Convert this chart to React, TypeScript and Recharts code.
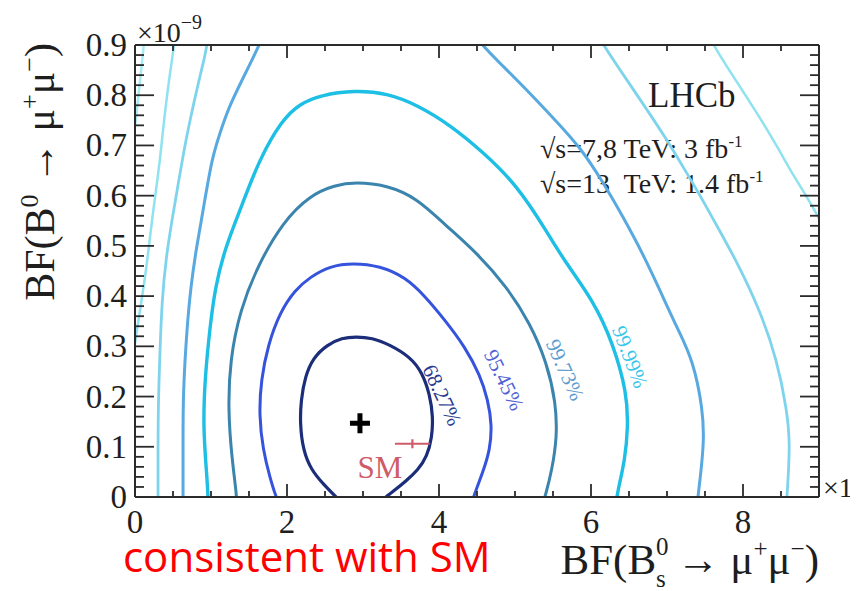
import React from 'react';
import {
  ComposedChart,
  Line,
  Scatter,
  XAxis,
  YAxis,
  ErrorBar,
  ReferenceDot,
  Customized,
} from 'recharts';

type P = [number, number];

// Confidence contours in the (BF(Bs->mumu), BF(B0->mumu)) plane, units of 1e-9.
const contour6827: P[] = [
  [2.724, -0.012], [2.645, 0], [2.487, 0.024], [2.316, 0.054], [2.21, 0.094],
  [2.171, 0.147], [2.184, 0.193], [2.237, 0.239], [2.342, 0.277], [2.526, 0.303],
  [2.724, 0.317], [2.908, 0.319], [3.118, 0.317], [3.355, 0.303], [3.618, 0.279],
  [3.776, 0.249], [3.882, 0.203], [3.921, 0.159], [3.908, 0.119], [3.842, 0.08],
  [3.724, 0.054], [3.553, 0.03], [3.42, 0.014], [3.3, 0], [3.2, -0.014],
];

const contour9545: P[] = [
  [1.895, -0.012], [1.855, 0], [1.776, 0.038], [1.684, 0.094], [1.632, 0.163],
  [1.658, 0.233], [1.75, 0.303], [1.908, 0.368], [2.105, 0.412], [2.303, 0.438],
  [2.566, 0.46], [2.868, 0.466], [3.224, 0.46], [3.553, 0.438], [3.816, 0.4],
  [4.079, 0.352], [4.342, 0.299], [4.539, 0.243], [4.645, 0.193], [4.697, 0.143],
  [4.671, 0.094], [4.579, 0.05], [4.461, 0.004], [4.434, -0.012],
];

const contour9973: P[] = [
  [1.329, -0.012], [1.342, 0], [1.276, 0.074], [1.224, 0.173], [1.25, 0.273],
  [1.382, 0.372], [1.618, 0.462], [1.947, 0.548], [2.303, 0.601], [2.632, 0.621],
  [2.895, 0.627], [3.316, 0.621], [3.711, 0.595], [4.079, 0.542], [4.5, 0.486],
  [4.895, 0.418], [5.197, 0.346], [5.421, 0.267], [5.539, 0.187], [5.553, 0.119],
  [5.487, 0.054], [5.395, 0], [5.368, -0.012],
];

const contour9999: P[] = [
  [0.961, -0.012], [0.961, 0], [0.947, 0.04], [0.895, 0.139], [0.921, 0.239],
  [0.987, 0.339], [1.053, 0.416], [1.184, 0.496], [1.408, 0.581], [1.632, 0.671],
  [1.934, 0.751], [2.171, 0.783], [2.434, 0.8], [2.895, 0.81], [3.316, 0.804],
  [3.711, 0.781], [4.145, 0.741], [4.579, 0.687], [5.026, 0.621], [5.421, 0.528],
  [5.658, 0.468], [6.026, 0.392], [6.289, 0.307], [6.474, 0.207], [6.487, 0.139],
  [6.447, 0.074], [6.355, 0.014], [6.329, -0.012],
];

// Outer levels leave the frame at the top, so each is kept as two arms.
const level5Left: P[] = [
  [0.632, -0.012], [0.632, 0.008], [0.632, 0.108], [0.632, 0.207], [0.684, 0.339],
  [0.737, 0.422], [0.803, 0.492], [0.908, 0.581], [1.013, 0.675], [1.118, 0.725],
  [1.237, 0.777], [1.408, 0.83], [1.539, 0.87], [1.645, 0.904], [1.684, 0.916],
];
const level5Right: P[] = [
  [4.513, 0.916], [4.539, 0.904], [4.868, 0.854], [5.197, 0.804], [5.526, 0.751],
  [5.855, 0.697], [6.158, 0.627], [6.421, 0.558], [6.711, 0.476], [6.947, 0.398],
  [7.145, 0.333], [7.342, 0.273], [7.474, 0.173], [7.487, 0.108], [7.434, 0.034],
  [7.408, 0], [7.395, -0.012],
];

const level6Left: P[] = [
  [0.303, -0.012], [0.303, 0.054], [0.303, 0.173], [0.329, 0.293], [0.355, 0.392],
  [0.408, 0.476], [0.487, 0.552], [0.566, 0.621], [0.645, 0.691], [0.724, 0.751],
  [0.842, 0.83], [0.908, 0.87], [0.947, 0.9], [0.961, 0.916],
];
const level6Right: P[] = [
  [6.118, 0.916], [6.145, 0.904], [6.447, 0.836], [6.737, 0.771], [6.974, 0.717],
  [7.197, 0.661], [7.434, 0.601], [7.671, 0.536], [7.921, 0.468], [8.224, 0.372],
  [8.447, 0.273], [8.579, 0.173], [8.618, 0.108], [8.592, 0.034], [8.579, 0],
  [8.566, -0.012],
];

const level7Left: P[] = [
  [0.526, 0.916], [0.513, 0.9], [0.487, 0.87], [0.447, 0.83], [0.382, 0.751],
  [0.329, 0.671], [0.276, 0.611], [0.224, 0.552], [0.171, 0.482], [0.118, 0.422],
  [0.066, 0.372], [0.026, 0.333], [-0.013, 0.293],
];
const level7Right: P[] = [
  [7.579, 0.916], [7.605, 0.9], [7.921, 0.826], [8.224, 0.755], [8.461, 0.695],
  [8.658, 0.641], [8.829, 0.601], [8.974, 0.562], [9.079, 0.532],
];

const level8Left: P[] = [
  [0.118, 0.916], [0.118, 0.9], [0.066, 0.83], [0.013, 0.751], [-0.026, 0.711],
];

// Best fit and Standard Model prediction.
const bestFit = [{ x: 2.96, y: 0.147 }];
const smPrediction = [{ x: 3.65, y: 0.106, ex: 0.23, ey: 0.009 }];

// Contour level names.
const levelNames = ['68.27%', '95.45%', '99.73%', '99.99%'];
const levelLabelAt: P[] = [[4.04, 0.203], [4.855, 0.233], [5.658, 0.253], [6.513, 0.279]];

// Axis tick values.
const xMajorTicks = [0, 2, 4, 6, 8];
const yMajorTicks = [0, 0.1, 0.2, 0.3, 0.4, 0.5, 0.6, 0.7, 0.8, 0.9];
const yTickLabels = ['0', '0.1', '0.2', '0.3', '0.4', '0.5', '0.6', '0.7', '0.8', '0.9'];
const xTicks = Array.from({ length: 19 }, (_, i) => i * 0.5);
const yTicks = Array.from({ length: 46 }, (_, i) => Math.round(i * 2) / 100);

const rows = (pts: P[]) => pts.map(([x, y]) => ({ x, y }));

const SERIF = 'Liberation Serif, Times New Roman, serif';
const serifStyle = { fontFamily: SERIF };
const AXIS = '#2b2b2b';

const near = (a: number, b: number) => Math.abs(a - b) < 1e-6;
const isMajorX = (v: number) => xMajorTicks.some((t) => near(t, v));
const yMajorIndex = (v: number) => yMajorTicks.findIndex((t) => near(t, v));

const BottomTick = (props: any) => {
  const { x, y, payload } = props;
  const major = isMajorX(payload.value);
  return (
    <g>
      <line x1={x} x2={x} y1={y} y2={y - (major ? 13 : 6)} stroke={AXIS} strokeWidth={1.8} />
      {major && (
        <text x={x} y={y + 36} textAnchor="middle" style={serifStyle} fontSize={33} fill="#1e1e1e">
          {payload.value}
        </text>
      )}
    </g>
  );
};

const TopTick = (props: any) => {
  const { x, y, payload } = props;
  const major = isMajorX(payload.value);
  return <line x1={x} x2={x} y1={y} y2={y + (major ? 13 : 6)} stroke={AXIS} strokeWidth={1.8} />;
};

const LeftTick = (props: any) => {
  const { x, y, payload } = props;
  const idx = yMajorIndex(payload.value);
  const major = idx >= 0;
  return (
    <g>
      <line x1={x} x2={x + (major ? 19 : 9)} y1={y} y2={y} stroke={AXIS} strokeWidth={1.8} />
      {major && (
        <text x={x - 8} y={y + 11} textAnchor="end" style={serifStyle} fontSize={33} fill="#1e1e1e">
          {yTickLabels[idx]}
        </text>
      )}
    </g>
  );
};

const RightTick = (props: any) => {
  const { x, y, payload } = props;
  const major = yMajorIndex(payload.value) >= 0;
  return <line x1={x} x2={x - (major ? 19 : 9)} y1={y} y2={y} stroke={AXIS} strokeWidth={1.8} />;
};

const levelColors = ['#1c2d7a', '#3553dc', '#3a84ad', '#1dbfe5', '#58a9e0', '#7ed4ec', '#8fe2f0', '#a6ecf4'];
const levelTextColors = ['#2b3b8f', '#5061d6', '#5c9ccf', '#37c6ea'];
const levelTextAngles = [65, 64, 66, 69];

const Annotations = () => (
  <g style={serifStyle} fill="#1e1e1e">
    {/* exponent markers */}
    <text x={129} y={34} fontSize={28} style={serifStyle}>
      ×10<tspan dy={-13} fontSize={20}>−9</tspan>
    </text>
    <text x={815} y={489} fontSize={28} style={serifStyle}>
      ×10<tspan dy={-13} fontSize={20}>−9</tspan>
    </text>
    {/* y title */}
    <text x={46} y={35} fontSize={42} textAnchor="end" transform="rotate(-90 46 35)" style={serifStyle}>
      BF(B<tspan dy={-16} fontSize={26}>0</tspan>
      <tspan dy={16}> → μ</tspan>
      <tspan dy={-16} fontSize={26}>+</tspan>
      <tspan dy={16}>μ</tspan>
      <tspan dy={-16} fontSize={26}>−</tspan>
      <tspan dy={16}>)</tspan>
    </text>
    {/* x title */}
    <text x={811} y={566} fontSize={43} textAnchor="end" style={serifStyle}>
      BF(B<tspan dy={-19} fontSize={25}>0</tspan>
      <tspan dx={-12.5} dy={32} fontSize={25}>s</tspan>
      <tspan dy={-13}> → μ</tspan>
      <tspan dy={-17} fontSize={25}>+</tspan>
      <tspan dy={17}>μ</tspan>
      <tspan dy={-17} fontSize={25}>−</tspan>
      <tspan dy={17}>)</tspan>
    </text>
    {/* experiment tag */}
    <text x={640} y={99} fontSize={35} style={serifStyle}>LHCb</text>
    <text x={532} y={150} fontSize={28} style={{ ...serifStyle, whiteSpace: 'pre' }}>
      √s=7,8 TeV: 3 fb<tspan dy={-11} fontSize={17}>-1</tspan>
    </text>
    <text x={532} y={185} fontSize={28} style={{ ...serifStyle, whiteSpace: 'pre' }}>
      √s=13  TeV: 1.4 fb<tspan dy={-11} fontSize={17}>-1</tspan>
    </text>
    <text
      x={115}
      y={564}
      fontSize={42}
      fill="#ff0000"
      style={{ fontFamily: 'Open Sans, Noto Sans, sans-serif' }}
    >
      consistent with SM
    </text>
  </g>
);

const PlusShape = (props: any) => {
  const { cx, cy } = props;
  return (
    <path
      d={`M${cx - 10},${cy} H${cx + 10} M${cx},${cy - 10} V${cy + 10}`}
      stroke="#000"
      strokeWidth={5}
    />
  );
};

const SmShape = (props: any) => {
  const { cx, cy } = props;
  return (
    <text x={cx - 55} y={cy + 34} style={serifStyle} fontSize={31} fill="#cf5b68">
      SM
    </text>
  );
};

const arms: { pts: P[]; color: string; width: number }[] = [
  { pts: level8Left, color: levelColors[7], width: 2.5 },
  { pts: level7Left, color: levelColors[6], width: 2.5 },
  { pts: level7Right, color: levelColors[6], width: 2.5 },
  { pts: level6Left, color: levelColors[5], width: 2.8 },
  { pts: level6Right, color: levelColors[5], width: 2.8 },
  { pts: level5Left, color: levelColors[4], width: 3 },
  { pts: level5Right, color: levelColors[4], width: 3 },
  { pts: contour9999, color: levelColors[3], width: 3.4 },
  { pts: contour9973, color: levelColors[2], width: 3 },
  { pts: contour9545, color: levelColors[1], width: 3 },
  { pts: contour6827, color: levelColors[0], width: 3.2 },
];

export default function App() {
  return (
    <ComposedChart width={850} height={583} margin={{ top: 0, right: 0, bottom: 0, left: 0 }}>
      <XAxis
        xAxisId="b"
        type="number"
        dataKey="x"
        domain={[0, 9]}
        allowDataOverflow
        ticks={xTicks}
        interval={0}
        tickSize={0}
        tickMargin={0}
        height={94}
        tick={<BottomTick />}
        axisLine={{ stroke: AXIS, strokeWidth: 2 }}
      />
      <XAxis
        xAxisId="t"
        orientation="top"
        type="number"
        dataKey="x"
        domain={[0, 9]}
        allowDataOverflow
        ticks={xTicks}
        interval={0}
        tickSize={0}
        tickMargin={0}
        height={37}
        tick={<TopTick />}
        axisLine={{ stroke: AXIS, strokeWidth: 2 }}
      />
      <YAxis
        yAxisId="l"
        type="number"
        domain={[0, 0.9]}
        allowDataOverflow
        ticks={yTicks}
        interval={0}
        tickSize={0}
        tickMargin={0}
        width={127}
        tick={<LeftTick />}
        axisLine={{ stroke: AXIS, strokeWidth: 2 }}
      />
      <YAxis
        yAxisId="r"
        orientation="right"
        type="number"
        domain={[0, 0.9]}
        allowDataOverflow
        ticks={yTicks}
        interval={0}
        tickSize={0}
        tickMargin={0}
        width={39}
        tick={<RightTick />}
        axisLine={{ stroke: AXIS, strokeWidth: 2 }}
      />
      {arms.map((a, i) => (
        <Line
          key={i}
          xAxisId="b"
          yAxisId="l"
          data={rows(a.pts)}
          dataKey="y"
          type="basis"
          stroke={a.color}
          strokeWidth={a.width}
          dot={false}
          activeDot={false}
          isAnimationActive={false}
        />
      ))}
      <Scatter
        xAxisId="b"
        yAxisId="l"
        data={bestFit}
        dataKey="y"
        shape={<PlusShape />}
        isAnimationActive={false}
      />
      <Scatter
        xAxisId="b"
        yAxisId="l"
        data={smPrediction}
        dataKey="y"
        shape={<SmShape />}
        isAnimationActive={false}
      >
        <ErrorBar dataKey="ex" direction="x" width={0} stroke="#cf5b68" strokeWidth={2.2} />
        <ErrorBar dataKey="ey" direction="y" width={0} stroke="#cf5b68" strokeWidth={2.2} />
      </Scatter>
      {levelNames.map((name, i) => (
        <ReferenceDot
          key={name}
          xAxisId="b"
          yAxisId="l"
          x={levelLabelAt[i][0]}
          y={levelLabelAt[i][1]}
          r={0}
          shape={(p: any) => (
            <text
              transform={`translate(${p.cx},${p.cy}) rotate(${levelTextAngles[i]})`}
              textAnchor="middle"
              dy={7}
              style={serifStyle}
              fontSize={21}
              fill={levelTextColors[i]}
            >
              {name}
            </text>
          )}
        />
      ))}
      <Customized component={Annotations} />
    </ComposedChart>
  );
}
